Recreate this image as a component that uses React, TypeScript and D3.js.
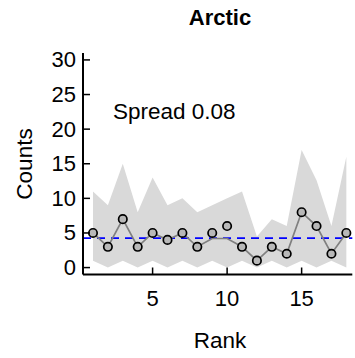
import React from "react";
import * as d3 from "d3";

const ranks = [1, 2, 3, 4, 5, 6, 7, 8, 9, 10, 11, 12, 13, 14, 15, 16, 17, 18];
const counts = [5, 3, 7, 3, 5, 4, 5, 3, 5, 6, 3, 1, 3, 2, 8, 6, 2, 5];
const lineValues = [5, 3, 7, 3, 5, 4, 5, 3, 4.2, 4.2, 3, 1, 3, 2, 8, 6, 2, 5];
const bandUpper = [11, 9, 15, 8, 13, 9, 10, 8, 9, 10, 11, 4.5, 7, 6, 17, 12.6, 6, 16];
const bandLower = [1, 0, 1, 0, 1, 0, 1, 0, 1, 0, 1, 0, 1, 0, 1, 0, 1, 0];
const meanValue = 4.25;
const yTicks = [0, 5, 10, 15, 20, 25, 30];
const xTicks = [5, 10, 15];
const title = "Arctic";
const annotation = "Spread 0.08";
const xLabel = "Rank";
const yLabel = "Counts";

const FONT = "'Liberation Sans', Arial, Helvetica, sans-serif";

export default function App() {
  const W = 355;
  const H = 358;
  const x = d3.scaleLinear().domain([0.33, 18.4]).range([83, 352.3]);
  const y = d3.scaleLinear().domain([-1, 31]).range([274.5, 53]);

  const area = d3
    .area<number>()
    .x((_, i) => x(ranks[i]))
    .y0((_, i) => y(bandLower[i]))
    .y1((_, i) => y(bandUpper[i]));
  const line = d3
    .line<number>()
    .x((_, i) => x(ranks[i]))
    .y((d) => y(d));

  const [x0, x1] = x.range();
  const [yb, yt] = y.range();

  return (
    <svg
      width={W}
      height={H}
      style={{ position: "absolute", left: 0, top: 0, background: "#fff" }}
      fontFamily={FONT}
    >
      <text x={220} y={25} textAnchor="middle" fontSize={22} fontWeight="bold" fill="#000">
        {title}
      </text>

      <path d={area(ranks) || ""} fill="#d9d9d9" stroke="none" />

      <line
        x1={x0}
        x2={x1}
        y1={y(meanValue)}
        y2={y(meanValue)}
        stroke="#0000ff"
        strokeWidth={1.7}
        strokeDasharray="8,6"
      />

      <path d={line(lineValues) || ""} fill="none" stroke="#808080" strokeWidth={1.7} />

      {counts.map((c, i) => (
        <circle
          key={i}
          cx={x(ranks[i])}
          cy={y(c)}
          r={4.2}
          fill="#b8b8b8"
          stroke="#000"
          strokeWidth={1.7}
        />
      ))}

      <text x={113} y={119} fontSize={22.5} fill="#000">
        {annotation}
      </text>

      {/* axes */}
      <line x1={x0} x2={x0} y1={yt} y2={yb} stroke="#000" strokeWidth={2} />
      <line x1={x0} x2={x1} y1={yb} y2={yb} stroke="#000" strokeWidth={2} />
      {yTicks.map((t) => (
        <g key={"y" + t}>
          <line x1={x0} x2={x0 + 7} y1={y(t)} y2={y(t)} stroke="#000" strokeWidth={1.5} />
          <text x={x0 - 7} y={y(t) + 7.5} textAnchor="end" fontSize={22} fill="#000">
            {t}
          </text>
        </g>
      ))}
      {xTicks.map((t) => (
        <g key={"x" + t}>
          <line x1={x(t)} x2={x(t)} y1={yb} y2={yb - 7} stroke="#000" strokeWidth={1.5} />
          <text x={x(t)} y={306} textAnchor="middle" fontSize={22} fill="#000">
            {t}
          </text>
        </g>
      ))}
      <text x={220} y={348} textAnchor="middle" fontSize={22.5} fill="#000">
        {xLabel}
      </text>
      <text
        transform={`translate(32,164) rotate(-90)`}
        textAnchor="middle"
        fontSize={22.5}
        fill="#000"
      >
        {yLabel}
      </text>
    </svg>
  );
}
